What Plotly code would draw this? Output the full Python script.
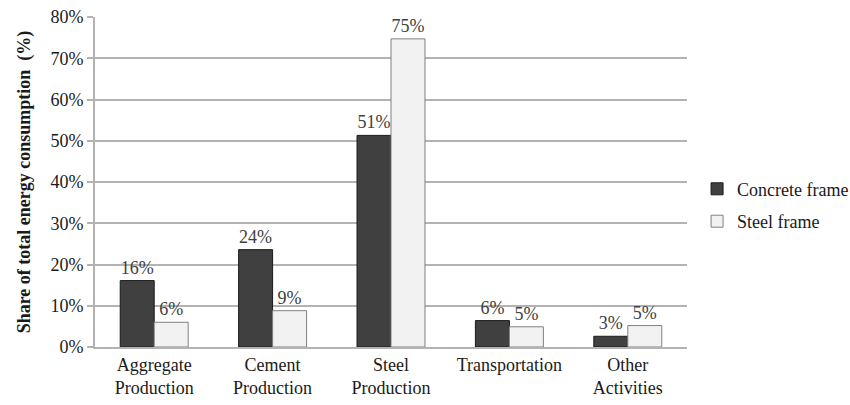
import plotly.graph_objects as go

categories = ["Aggregate<br>Production", "Cement<br>Production", "Steel<br>Production",
              "Transportation", "Other<br>Activities"]
concrete = [0.161, 0.236, 0.513, 0.064, 0.026]
steel = [0.060, 0.088, 0.747, 0.049, 0.052]
series_names = ["Concrete frame", "Steel frame"]
tick_vals = [0, 0.1, 0.2, 0.3, 0.4, 0.5, 0.6, 0.7, 0.8]

font_family = "Liberation Serif"

fig = go.Figure()
fig.add_trace(go.Bar(
    x=categories, y=concrete, name=series_names[0],
    marker=dict(color="#404040", line=dict(color="#1a1a1a", width=1)),
    texttemplate="%{y:.0%}", textposition="outside",
    textfont=dict(family=font_family, size=18, color="#404040"),
    cliponaxis=False, legendgroup="a",
))
fig.add_trace(go.Bar(
    x=categories, y=steel, name=series_names[1],
    marker=dict(color="#f2f2f2", line=dict(color="#808080", width=1)),
    texttemplate="%{y:.0%}", textposition="outside",
    textfont=dict(family=font_family, size=18, color="#404040"),
    cliponaxis=False, legendgroup="b",
))

fig.update_layout(
    width=850, height=405,
    margin=dict(l=95, r=163, t=17, b=58, autoexpand=False),
    paper_bgcolor="white", plot_bgcolor="white",
    barmode="group", bargap=0.426, bargroupgap=0,
    font=dict(family=font_family, size=18, color="#262626"),
    legend=dict(x=1.017, y=0.43, xanchor="left", yanchor="middle",
                font=dict(family=font_family, size=18, color="#1a1a1a"),
                traceorder="grouped", tracegroupgap=6,
                itemwidth=30),
    xaxis=dict(showline=True, linecolor="#b3b3b3", linewidth=2, ticks="",
               automargin=False,
               tickfont=dict(family=font_family, size=18, color="#1a1a1a")),
    yaxis=dict(range=[0, 0.8], tickvals=tick_vals, tickformat=".0%",
               automargin=False,
               showgrid=True, gridcolor="#b3b3b3", gridwidth=1.5,
               showline=True, linecolor="#b3b3b3", linewidth=2,
               ticks="outside", ticklen=6, tickcolor="#b3b3b3", tickwidth=1.5,
               zeroline=False,
               tickfont=dict(family=font_family, size=18, color="#1a1a1a"),
               title=dict(text="<b>Share of total energy consumption  (%)</b>",
                          font=dict(family=font_family, size=18, color="#1a1a1a"),
                          standoff=15)),
)

fig.write_html("out.html")
